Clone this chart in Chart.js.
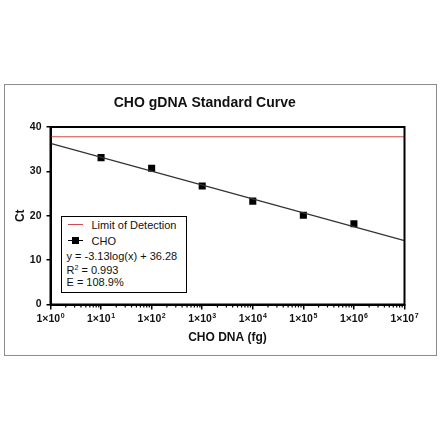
<!DOCTYPE html>
<html>
<head>
<meta charset="utf-8">
<title>CHO gDNA Standard Curve</title>
<script src="https://cdn.jsdelivr.net/npm/chart.js@4.4.0/dist/chart.umd.min.js"></script>
<style>
  html, body { margin: 0; padding: 0; background: #fff; width: 440px; height: 440px; overflow: hidden; }
  #frame { position: absolute; left: 4px; top: 84px; width: 433px; height: 272px; border: 1.5px solid #8c8c8c; box-sizing: border-box; }
  #wrap { position: relative; width: 100%; height: 100%; }
  .xlab { position: absolute; transform: translateX(-50%); font-family: Arial, "Liberation Sans", sans-serif; font-size: 10.5px; font-weight: bold;
          color: #111; line-height: 12px; white-space: nowrap; }
  .xlab sup { font-size: 7px; line-height: 0; vertical-align: 4px; margin-left: 0.5px; }
  #legend { position: absolute; left: 61px; top: 215.5px; width: 126px; height: 77px; border: 1.5px solid #000; box-sizing: border-box; background: #fff;
            font-family: Arial, "Liberation Sans", sans-serif; font-size: 11px; color: #111; }
  #legend .row { position: absolute; line-height: 12px; white-space: nowrap; }
  #legend .row sup { font-size: 7px; line-height: 0; vertical-align: 4px; }
  #legend .swatch { position: absolute; height: 0; }
  #legend .sq { position: absolute; width: 7px; height: 7px; background: #000; }
</style>
</head>
<body>
<div id="frame"><div id="wrap"><canvas id="stdCurve"></canvas></div></div>
<div id="legend">
  <div class="swatch" style="left:5.5px; top:7.5px; width:15px; border-top:1.2px solid #d44a4a;"></div>
  <div class="row" style="left:29.5px; top:2px;">Limit of Detection</div>
  <div class="swatch" style="left:5.5px; top:23.5px; width:15px; border-top:1.2px solid #000;"></div>
  <div class="sq" style="left:10px; top:20.5px;"></div>
  <div class="row" style="left:29.5px; top:18px;">CHO</div>
  <div class="row" style="left:4.5px; top:33px;">y = -3.13log(x) + 36.28</div>
  <div class="row" style="left:4.5px; top:47.5px;">R<sup>2</sup> = 0.993</div>
  <div class="row" style="left:4.5px; top:59px;">E = 108.9%</div>
</div>
<script>
// data
const xTickValues = [1, 10, 100, 1e3, 1e4, 1e5, 1e6, 1e7];
const xTickExponents = ["0", "1", "2", "3", "4", "5", "6", "7"];
const choAmounts = [10, 100, 1e3, 1e4, 1e5, 1e6];
const choCt = [33.1, 30.7, 26.7, 23.3, 20.1, 18.2];
const fitX = [1, 1e7];
const fitCt = [36.3, 14.4];
const lodX = [1, 1e7];
const lodCt = [37.8, 37.8];

const FONT = "Arial, 'Liberation Sans', sans-serif";

function toPoints(xs, ys) {
  return xs.map((x, i) => ({ x: x, y: ys[i] }));
}

// box round the plot + short minor ticks on the log axis
const frameBox = {
  id: "frameBox",
  afterDraw(chart) {
    const ctx = chart.ctx;
    const a = chart.chartArea;
    const xs = chart.scales.x;
    ctx.save();
    ctx.strokeStyle = "#000";
    ctx.lineWidth = 2;
    ctx.strokeRect(a.left, a.top, a.right - a.left, a.bottom - a.top);
    ctx.lineWidth = 1.2;
    ctx.beginPath();
    for (let d = 0; d < xTickValues.length - 1; d++) {
      for (let k = 2; k <= 9; k++) {
        const px = xs.getPixelForValue(k * xTickValues[d]);
        ctx.moveTo(px, a.bottom);
        ctx.lineTo(px, a.bottom + 3);
      }
    }
    ctx.stroke();
    ctx.restore();
  }
};

const chart = new Chart(document.getElementById("stdCurve"), {
  type: "scatter",
  data: {
    datasets: [
      {
        label: "Limit of Detection",
        data: toPoints(lodX, lodCt),
        showLine: true,
        borderColor: "#d44a4a",
        borderWidth: 1.2,
        pointRadius: 0
      },
      {
        label: "Fit",
        data: toPoints(fitX, fitCt),
        showLine: true,
        borderColor: "#333",
        borderWidth: 1.2,
        pointRadius: 0
      },
      {
        label: "CHO",
        data: toPoints(choAmounts, choCt),
        pointStyle: "rect",
        pointRadius: 5,
        backgroundColor: "#000",
        borderColor: "#000",
        borderWidth: 0
      }
    ]
  },
  options: {
    responsive: true,
    maintainAspectRatio: false,
    animation: false,
    layout: { padding: { left: 0, right: 31.5, top: 0, bottom: 0 } },
    plugins: {
      legend: { display: false },
      tooltip: { enabled: false },
      title: {
        display: true,
        text: "CHO gDNA Standard Curve",
        color: "#111",
        font: { family: FONT, size: 14, weight: "bold", lineHeight: 1.2 },
        padding: { top: 10, bottom: 15.2 }
      }
    },
    scales: {
      x: {
        type: "logarithmic",
        min: 1,
        max: 1e7,
        afterBuildTicks(scale) {
          scale.ticks = xTickValues.map(v => ({ value: v }));
        },
        afterFit(scale) { scale.height = 50.5; },
        border: { display: true, color: "#000", width: 2 },
        grid: { drawOnChartArea: false, drawTicks: true, tickLength: 5, color: "#000", lineWidth: 1.5 },
        // labels need superscripts, so they are written as html below
        ticks: { display: false, autoSkip: false },
        title: {
          display: true,
          text: "CHO DNA (fg)",
          color: "#111",
          font: { family: FONT, size: 12, weight: "bold", lineHeight: 1.2 },
          padding: { top: 0, bottom: 10 }
        }
      },
      y: {
        min: 0,
        max: 40,
        afterFit(scale) { scale.width = 45.5; },
        border: { display: true, color: "#000", width: 2 },
        grid: { drawOnChartArea: false, drawTicks: true, tickLength: 4, color: "#000", lineWidth: 1.5 },
        ticks: {
          stepSize: 10,
          color: "#111",
          padding: 5,
          font: { family: FONT, size: 10.5, weight: "bold" }
        },
        title: {
          display: true,
          text: "Ct",
          color: "#111",
          font: { family: FONT, size: 12, weight: "bold", lineHeight: 1.2 },
          padding: { top: 8, bottom: 0 }
        }
      }
    }
  },
  plugins: [frameBox]
});

// x tick labels placed with the log scale
const wrap = document.getElementById("wrap");
const xScale = chart.scales.x;
xTickValues.forEach((v, i) => {
  const lab = document.createElement("div");
  lab.className = "xlab";
  lab.innerHTML = "1×10<sup>" + xTickExponents[i] + "</sup>";
  lab.style.left = xScale.getPixelForValue(v) + "px";
  lab.style.top = (chart.chartArea.bottom + 7) + "px";
  wrap.appendChild(lab);
});
</script>
</body>
</html>
